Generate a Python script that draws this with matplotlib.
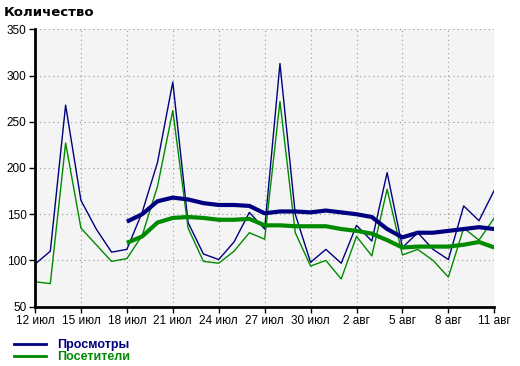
import matplotlib
matplotlib.use("agg")
import matplotlib.pyplot as plt

plt.rcParams["font.family"] = ["Liberation Sans", "DejaVu Sans"]

days = list(range(31))
tick_days = list(range(0, 31, 3))
tick_labels = ["12 июл", "15 июл", "18 июл", "21 июл", "24 июл", "27 июл",
               "30 июл", "2 авг", "5 авг", "8 авг", "11 авг"]

# daily values
views = [96, 110, 268, 165, 134, 109, 112, 152, 206, 293, 141, 107, 101, 120,
         152, 134, 313, 150, 98, 112, 97, 138, 121, 195, 114, 130, 112, 101,
         159, 143, 176]
visitors = [77, 75, 227, 135, 117, 99, 102, 127, 180, 262, 135, 99, 97, 110,
            130, 123, 272, 130, 94, 100, 80, 126, 105, 177, 106, 112, 100, 82,
            135, 122, 146]

# smoothed lines (start at 18 июл)
avg_days = list(range(6, 31))
views_avg = [142, 150, 164, 168, 166, 162, 160, 160, 159, 151, 153, 153, 152,
             154, 152, 150, 147, 134, 125, 130, 130, 132, 134, 136, 134]
visitors_avg = [119, 126, 141, 146, 147, 146, 144, 144, 145, 138, 138, 137, 137,
                137, 134, 132, 129, 122, 114, 115, 115, 115, 117, 120, 114]

navy = "#000080"
green = "#008a00"

fig = plt.figure(figsize=(5.2, 3.66), dpi=100)
ax = fig.add_axes([35 / 520, 1 - 306.7 / 366, (494.3 - 35) / 520, (306.7 - 29.3) / 366])
ax.set_facecolor("#f4f4f4")

l1, = ax.plot(days, views, color=navy, lw=1.0)
l2, = ax.plot(days, visitors, color=green, lw=1.0)
ax.plot(avg_days, views_avg, color=navy, lw=3.0, solid_capstyle="butt")
ax.plot(avg_days, visitors_avg, color=green, lw=3.0, solid_capstyle="butt")

ax.set_xlim(0, 30)
ax.set_ylim(50, 350)
ax.set_xticks(tick_days)
ax.set_xticklabels(tick_labels)
ax.set_yticks(range(50, 351, 50))
ax.tick_params(labelsize=8.5, length=4, width=1, pad=2)
ax.grid(True, color="#999999", linestyle=(0, (1, 3)), linewidth=0.8)
ax.set_axisbelow(True)

for side in ("top", "right"):
    ax.spines[side].set_visible(False)
for side in ("left", "bottom"):
    ax.spines[side].set_linewidth(2)
    ax.spines[side].set_color("black")

fig.text(4 / 520, 1 - 12 / 366, "Количество", fontsize=9.5, fontweight="bold",
         va="center", family="DejaVu Sans")

leg = fig.legend([l1, l2], ["Просмотры", "Посетители"],
                 loc="upper left", bbox_to_anchor=(8 / 520, 1 - 333 / 366),
                 frameon=False, fontsize=9, handlelength=2.5, handletextpad=0.9,
                 labelspacing=0.0, borderpad=0)
for line in leg.get_lines():
    line.set_linewidth(2)
for txt, c in zip(leg.get_texts(), [navy, green]):
    txt.set_color(c)
    txt.set_fontweight("bold")

fig.savefig("out.png", dpi=100)
